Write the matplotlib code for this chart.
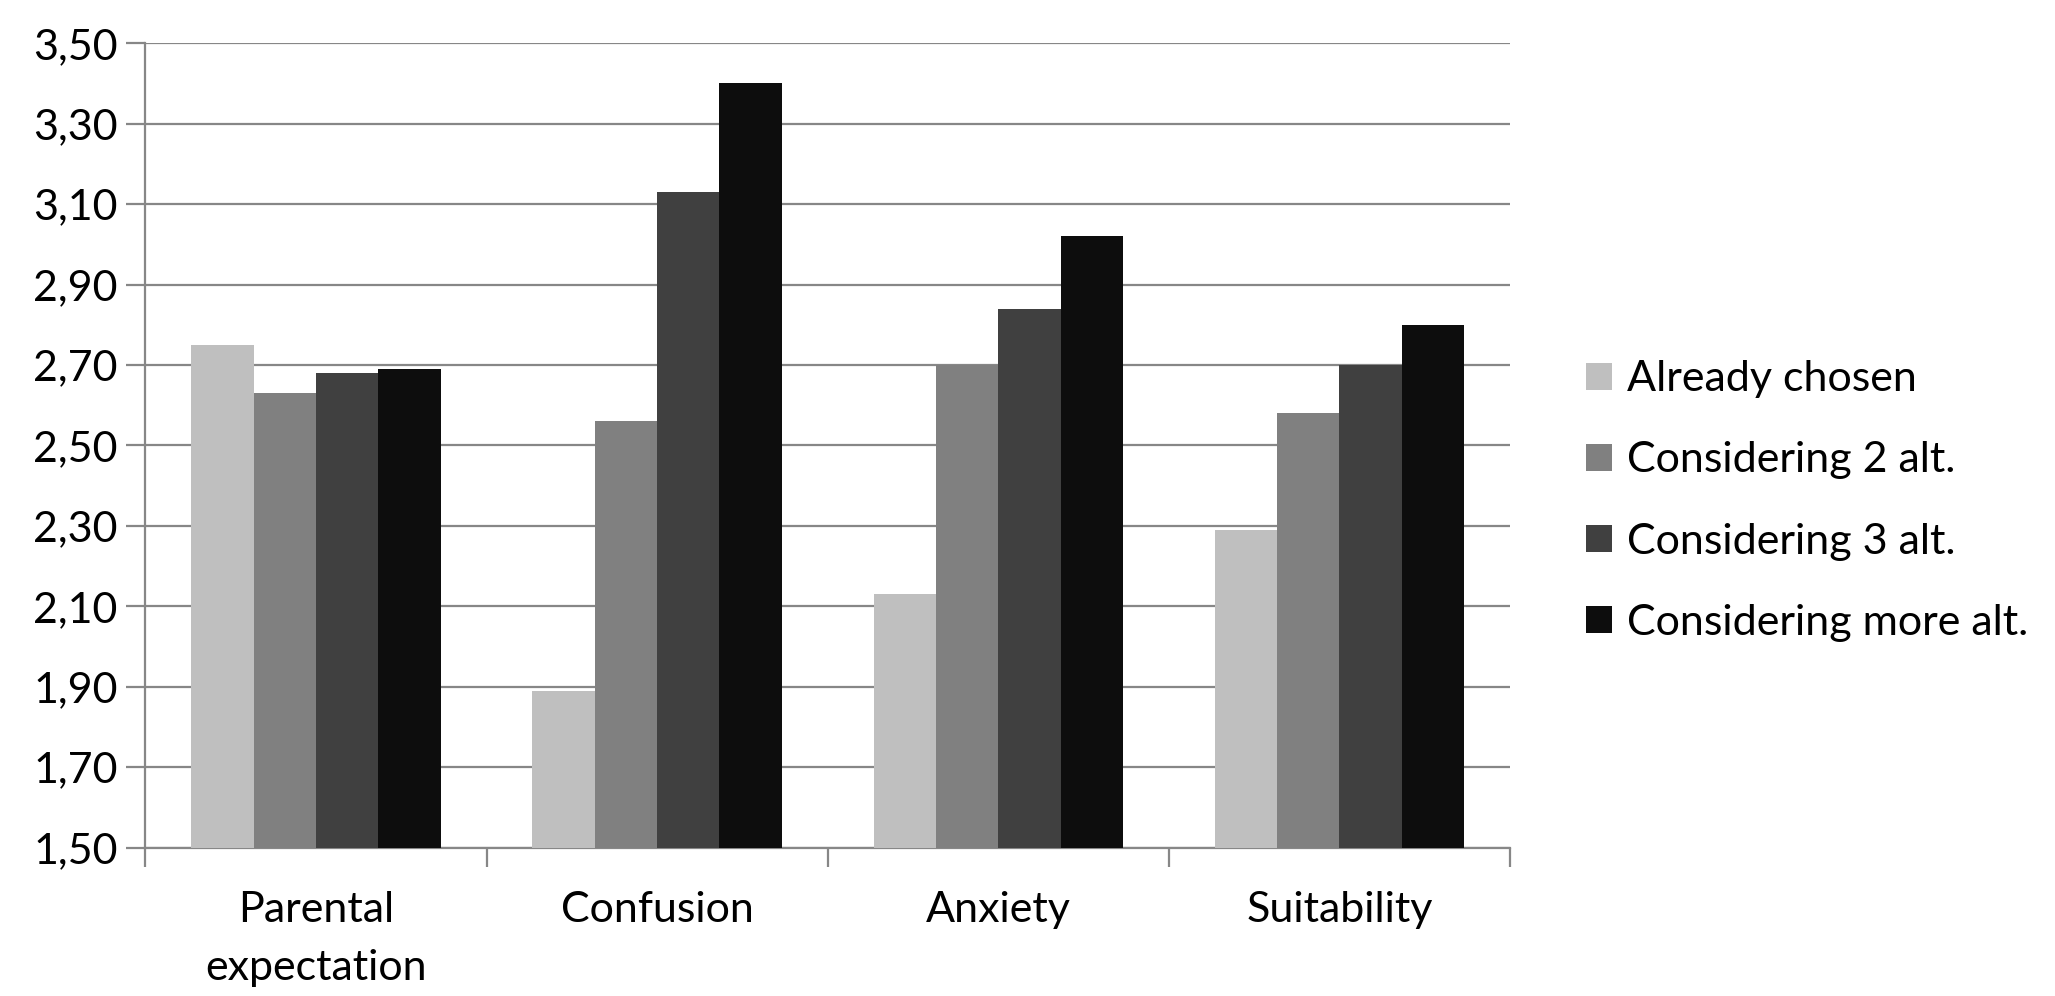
import matplotlib.pyplot as plt
import numpy as np
from matplotlib.ticker import FuncFormatter

categories = ["Parental\nexpectation", "Confusion", "Anxiety", "Suitability"]
series = ["Already chosen", "Considering 2 alt.", "Considering 3 alt.", "Considering more alt."]
already = [2.75, 1.89, 2.13, 2.29]
two_alt = [2.63, 2.56, 2.70, 2.58]
three_alt = [2.68, 3.13, 2.84, 2.70]
more_alt = [2.69, 3.40, 3.02, 2.80]
colors = ["#bfbfbf", "#808080", "#404040", "#0d0d0d"]

plt.rcParams['font.family'] = ['Lato', 'DejaVu Sans']

fig = plt.figure(figsize=(20.55, 9.96), dpi=100)
ax = fig.add_axes([0.0708, 0.149, 0.6639, 0.8076])

x = np.arange(len(categories))
w = 0.1827
for i, (vals, name) in enumerate(zip([already, two_alt, three_alt, more_alt], series)):
    ax.bar(x + (i - 1.5) * w, vals, width=w, color=colors[i], label=name, zorder=3)

ax.set_ylim(1.5, 3.5)
ax.set_xlim(-0.5, len(categories) - 0.5)
ax.set_yticks(np.arange(1.5, 3.51, 0.2))
ax.yaxis.set_major_formatter(FuncFormatter(lambda v, p: f"{v:.2f}".replace(".", ",")))
ax.yaxis.grid(True, color="#878787", linewidth=1.6, zorder=0)

ax.set_xticks(x)
ax.set_xticklabels(categories, fontsize=31, linespacing=1.65)
ax.set_xticks(np.arange(-0.5, len(categories), 1), minor=True)
ax.tick_params(axis='x', which='major', length=0, pad=31)
ax.tick_params(axis='x', which='minor', length=14, width=1.6, color="#878787")
ax.tick_params(axis='y', length=14, width=1.6, color="#878787", labelsize=31, pad=6)

for s in ["top", "right"]:
    ax.spines[s].set_visible(False)
for s in ["left", "bottom"]:
    ax.spines[s].set_color("#878787")
    ax.spines[s].set_linewidth(1.6)

fig.legend(loc="center left", bbox_to_anchor=(0.753, 0.497), frameon=False,
           fontsize=31, handlelength=0.6, handleheight=0.6, handletextpad=0.35,
           labelspacing=1.0)

plt.savefig("out.png")
